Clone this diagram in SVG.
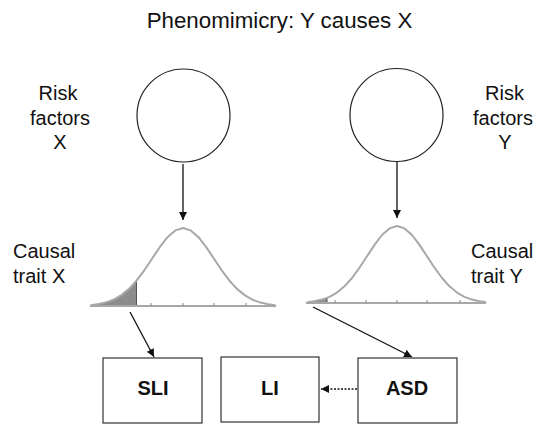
<svg xmlns="http://www.w3.org/2000/svg" width="541" height="425" viewBox="0 0 541 425">
<style>
text{font-family:"Liberation Sans",Arial,Helvetica,sans-serif;fill:#111}
.lbl{font-size:20px}
.title{font-size:22.3px}
.box{fill:#fff;stroke:#333;stroke-width:1.2}
.bt{font-size:20px;font-weight:bold;text-anchor:middle}
.circ{fill:#fff;stroke:#222;stroke-width:1.2}
.curve{fill:none;stroke:#a8a8a8;stroke-width:2;stroke-linejoin:round}
.base{stroke:#a8a8a8;stroke-width:2}
.tick{stroke:#888;stroke-width:1}
.shade{fill:#8c8c8c;stroke:#555;stroke-width:1}
.arr{stroke:#111;stroke-width:1.3;fill:none}
</style>
<defs>
<marker id="ah" viewBox="0 0 10 10" refX="10" refY="5" markerWidth="8" markerHeight="8" markerUnits="userSpaceOnUse" orient="auto">
<path d="M0,0 L10,5 L0,10 Z" fill="#111"/>
</marker>
</defs>
<rect width="541" height="425" fill="#fff"/>
<text class="title" x="279.5" y="28" text-anchor="middle">Phenomimicry: Y causes X</text>

<g id="riskX">
<circle class="circ" cx="183.5" cy="115.5" r="46.5"/>
<text class="lbl" text-anchor="middle"><tspan x="58" y="100">Risk</tspan><tspan x="60" y="124.5">factors</tspan><tspan x="60" y="149">X</tspan></text>
</g>
<g id="riskY">
<circle class="circ" cx="396.5" cy="115" r="46.5"/>
<text class="lbl" text-anchor="middle"><tspan x="504.5" y="100">Risk</tspan><tspan x="503" y="124.5">factors</tspan><tspan x="505" y="149">Y</tspan></text>
</g>

<g id="traitX">
<path class="shade" d="M92.2,306 L92.2,304.9 L97.8,304.2 L105.5,302.6 L113.3,299.8 L121,295.4 L128.8,289.1 L136.5,280.7 L136.5,306 Z"/>
<line class="base" x1="90" y1="306" x2="276" y2="306"/>
<path class="curve" d="M90,306 L92.2,304.9 L97.8,304.2 L105.5,302.6 L113.3,299.8 L121,295.4 L128.8,289.1 L136.5,280.7 L144.3,270.3 L152,258.7 L159.8,247.1 L167.5,237.2 L175.3,230.4 L183,228 L190.7,230.4 L198.5,237.2 L206.2,247.1 L214,258.7 L221.7,270.3 L229.5,280.7 L237.2,289.1 L245,295.4 L252.7,299.8 L260.5,302.6 L268.2,304.2 L273.8,304.9 L276,306"/>
<g class="tick"><line x1="120" y1="303" x2="120" y2="306"/><line x1="151" y1="303" x2="151" y2="306"/><line x1="183" y1="303" x2="183" y2="306"/><line x1="214" y1="303" x2="214" y2="306"/><line x1="246" y1="303" x2="246" y2="306"/></g>
<text class="lbl"><tspan x="13" y="258">Causal</tspan><tspan x="13" y="283">trait X</tspan></text>
</g>

<g id="traitY">
<path class="shade" d="M308,303 L309.1,302 L314.5,301.2 L322,299.6 L327,297.9 L327,303 Z"/>
<line class="base" x1="306" y1="303" x2="486" y2="303"/>
<path class="curve" d="M306,303 L309.1,302 L314.5,301.2 L322,299.6 L329.5,296.9 L337,292.6 L344.5,286.3 L352,278 L359.5,267.7 L367,256.3 L374.5,244.9 L382,235 L389.5,228.4 L397,226 L404.5,228.4 L412,235 L419.5,244.9 L427,256.3 L434.5,267.7 L442,278 L449.5,286.3 L457,292.6 L464.5,296.9 L472,299.6 L479.5,301.2 L484.9,302 L486,303"/>
<g class="tick"><line x1="335" y1="300" x2="335" y2="303"/><line x1="366" y1="300" x2="366" y2="303"/><line x1="397" y1="300" x2="397" y2="303"/><line x1="427" y1="300" x2="427" y2="303"/><line x1="460" y1="300" x2="460" y2="303"/></g>
<text class="lbl"><tspan x="471" y="258">Causal</tspan><tspan x="471" y="283">trait Y</tspan></text>
</g>

<g id="SLI"><rect class="box" x="103" y="358" width="99" height="65"/><text class="bt" x="153" y="395">SLI</text></g>
<g id="LI"><rect class="box" x="221" y="357" width="98" height="65"/><text class="bt" x="270" y="395">LI</text></g>
<g id="ASD"><rect class="box" x="358" y="358" width="99" height="65"/><text class="bt" x="407" y="395">ASD</text></g>

<g id="connectors">
<line class="arr" x1="183" y1="164" x2="183" y2="220" marker-end="url(#ah)"/>
<line class="arr" x1="397" y1="162" x2="397" y2="218" marker-end="url(#ah)"/>
<line class="arr" x1="130" y1="312" x2="154" y2="357" marker-end="url(#ah)"/>
<line class="arr" x1="313" y1="307" x2="412" y2="357" marker-end="url(#ah)"/>
<line class="arr" x1="357" y1="389" x2="321" y2="389" stroke-dasharray="2,1.5" marker-end="url(#ah)"/>
</g>
</svg>
